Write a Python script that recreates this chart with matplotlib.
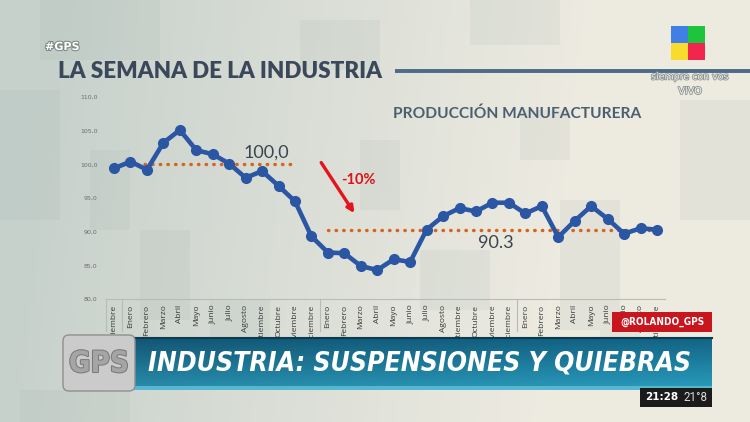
import os
import numpy as np
import matplotlib
matplotlib.use("Agg")
import matplotlib.pyplot as plt
from matplotlib import font_manager
from matplotlib.patches import Rectangle, FancyBboxPatch
import matplotlib.patheffects as pe

# datos: produccion manufacturera (indice), de diciembre a septiembre
meses = ["Diciembre",
         "Enero", "Febrero", "Marzo", "Abril", "Mayo", "Junio", "Julio",
         "Agosto", "Septiembre", "Octubre", "Noviembre", "Diciembre",
         "Enero", "Febrero", "Marzo", "Abril", "Mayo", "Junio", "Julio",
         "Agosto", "Septiembre", "Octubre", "Noviembre", "Diciembre",
         "Enero", "Febrero", "Marzo", "Abril", "Mayo", "Junio", "Julio",
         "Agosto", "Septiembre"]
produccion = [99.4,
              100.4, 99.2, 103.2, 105.1, 102.1, 101.5, 100.1,
              98.0, 99.0, 96.8, 94.5, 89.3,
              86.9, 86.8, 84.9, 84.3, 85.9, 85.5, 90.3,
              92.3, 93.5, 93.0, 94.3, 94.3,
              92.7, 93.8, 89.2, 91.6, 93.8, 91.9, 89.7,
              90.5, 90.3]
y_ticks = [80, 85, 90, 95, 100, 105, 110]
promedio_antes = 100.0
promedio_despues = 90.3
tramo_antes = (0, 10.8)
tramo_despues = (13, 33)
caida = "-10%"
cortes_anio = [-0.5, 0.5, 12.5, 24.5]


def buscar_fuente(archivos, **respaldo):
    for nombre in archivos:
        for f in font_manager.fontManager.ttflist:
            if os.path.basename(f.fname).lower() == nombre.lower():
                return font_manager.FontProperties(fname=f.fname)
    return font_manager.FontProperties(**respaldo)


f_banner = buscar_fuente(["LiberationSansNarrow-BoldItalic.ttf",
                          "DejaVuSansCondensed-BoldOblique.ttf"],
                         family="Roboto", weight="bold", style="italic")
f_cond = buscar_fuente(["LiberationSansNarrow-Bold.ttf",
                        "DejaVuSansCondensed-Bold.ttf"],
                       family="Roboto", weight="bold")

fig = plt.figure(figsize=(7.5, 4.22), dpi=100)

# fondo
bg = fig.add_axes([0, 0, 1, 1], zorder=0)
bg.set_xlim(0, 750)
bg.set_ylim(422, 0)
bg.axis("off")
gx = np.linspace(0, 1, 200)[None, :, None]
gy = np.linspace(0, 1, 100)[:, None, None]
izq = np.array([0.78, 0.82, 0.80])
der = np.array([0.93, 0.92, 0.88])
grad = izq + (der - izq) * np.clip(gx * 1.4 - 0.1 + gy * 0.1, 0, 1)
bg.imshow(grad, extent=[0, 750, 422, 0], aspect="auto", zorder=0)
bloques = [(0, 90, 60, 130), (40, 0, 120, 60), (140, 230, 50, 90), (300, 20, 80, 50),
           (420, 250, 70, 60), (560, 200, 60, 130), (680, 100, 70, 120), (20, 390, 110, 32),
           (210, 300, 60, 40), (470, 0, 90, 45), (600, 330, 40, 60), (90, 150, 40, 80),
           (360, 140, 40, 70), (520, 110, 50, 50)]
for bx, by, bw, bh in bloques:
    bg.add_patch(Rectangle((bx, by), bw, bh, color="#9fb0a8", alpha=0.13, lw=0, zorder=1))

# titulo y cabecera
bg.text(45, 47, "#GPS", color="white", fontsize=8, fontweight="bold", va="center",
        family="DejaVu Sans", path_effects=[pe.withStroke(linewidth=1.5, foreground="#7f8a86")])
titulo = bg.text(58, 72, "LA SEMANA DE LA INDUSTRIA", color="#3b4859", fontsize=15,
                 fontweight="heavy", family="Lato", va="center")
bg.plot([395, 750], [71, 71], color="#4d6a89", lw=2.8, solid_capstyle="butt")
sub = bg.text(393, 114, "PRODUCCIÓN MANUFACTURERA", color="#4b5f71", fontsize=10,
              fontweight="bold", family="Lato", va="center")

# logo del canal
for (lx, ly), c in zip([(671, 26), (688, 26), (671, 43), (688, 43)],
                       ["#3f7fe6", "#1fc43d", "#f7dc2c", "#f0264f"]):
    bg.add_patch(Rectangle((lx, ly), 17, 17, color=c, lw=0, zorder=3))
bg.text(690, 77, "siempre con vos", color="#eeeeee", fontsize=6.8, ha="center", va="center",
        family="DejaVu Sans", path_effects=[pe.withStroke(linewidth=1.2, foreground="#8c9490")])
bg.text(690, 91, "VIVO", color="#eeeeee", fontsize=7, ha="center", va="center",
        family="DejaVu Sans", path_effects=[pe.withStroke(linewidth=1.2, foreground="#8c9490")])

# grafico
ax = fig.add_axes([105.8 / 750, 1 - 299 / 422, 559.4 / 750, 202 / 422], zorder=1)
ax.patch.set_alpha(0)
x = np.arange(len(meses))
ax.plot(x, produccion, color="#2a56a4", lw=3.3, marker="o", ms=7, solid_joinstyle="round",
        zorder=4)
ax.plot(tramo_antes, [promedio_antes] * 2, color="#d8631e", lw=2.5, ls=(0, (0.1, 2.1)),
        dash_capstyle="round", zorder=3)
ax.plot(tramo_despues, [promedio_despues] * 2, color="#d8631e", lw=2.5, ls=(0, (0.1, 2.1)),
        dash_capstyle="round", zorder=3)
ax.text(9.25, 101.8, f"{promedio_antes:.1f}".replace(".", ","), color="#3a4450", fontsize=13,
        family="Lato", ha="center", va="center")
ax.text(23.2, 88.3, f"{promedio_despues:.1f}", color="#3a4450", fontsize=13,
        family="Lato", ha="center", va="center")
ax.annotate("", xy=(14.7, 92.4), xytext=(12.5, 100.6),
            arrowprops=dict(arrowstyle="-|>", color="#e5131b", lw=2.4, mutation_scale=10))
ax.text(13.8, 97.6, caida, color="#d9141c", fontsize=10.5, fontweight="bold", family="Lato",
        va="center")

ax.set_xlim(-0.5, 33.5)
ax.set_ylim(80, 110)
ax.set_yticks(y_ticks)
ax.set_yticklabels([f"{v:.1f}".replace(".", ",") for v in y_ticks], fontsize=4.5,
                   color="#6b706e")
ax.set_xticks(x)
ax.set_xticklabels(meses, rotation=90, fontsize=6, color="#333a3a", family="Open Sans")
ax.tick_params(axis="both", length=0)
ax.tick_params(axis="y", pad=6)
ax.tick_params(axis="x", pad=4)
for s in ["top", "right", "left"]:
    ax.spines[s].set_visible(False)
ax.spines["bottom"].set_color("#b9bcb6")
for corte in cortes_anio:
    ax.axvline(corte, ymin=-0.16, ymax=0, color="#b9bcb6", lw=0.8, clip_on=False)

# banner inferior
ov = fig.add_axes([0, 0, 1, 1], zorder=2)
ov.set_xlim(0, 750)
ov.set_ylim(422, 0)
ov.axis("off")
ov.patch.set_alpha(0)
bx = np.linspace(0, 1, 200)[None, :, None]
by = np.linspace(0, 1, 60)[:, None, None]
arriba = np.array([0.07, 0.33, 0.45])
abajo = np.array([0.16, 0.55, 0.67])
banda = arriba + (abajo - arriba) * by + np.array([0.0, 0.06, 0.07]) * bx
ov.imshow(banda, extent=[128, 712, 389, 337], aspect="auto", zorder=1)
ov.plot([128, 712], [337.5, 337.5], color="#0d3a4e", lw=1.5, zorder=2)
ov.add_patch(Rectangle((128, 386), 584, 4, color="#55b7d0", lw=0, zorder=2))
ov.add_patch(FancyBboxPatch((66, 338), 66, 50, boxstyle="round,pad=3,rounding_size=6",
                            facecolor="#cbcbcb", edgecolor="#8f8f8f", lw=1, zorder=3))
gps = ov.text(99, 364, "GPS", color="#a5a5a5", fontproperties=f_cond, fontsize=30,
              ha="center", va="center", zorder=4,
              path_effects=[pe.withStroke(linewidth=1.5, foreground="#7a7a7a")])
cintillo = ov.text(148, 364, "INDUSTRIA: SUSPENSIONES Y QUIEBRAS", color="white",
                   fontproperties=f_banner, fontsize=30, va="center", zorder=4)

ov.add_patch(Rectangle((612, 312), 100, 20, color="#c9161e", lw=0, zorder=3))
usuario = ov.text(662, 322, "@ROLANDO_GPS", color="white", fontproperties=f_cond, fontsize=8,
                  ha="center", va="center", zorder=4)
ov.add_patch(Rectangle((640, 388), 72, 19, color="#1b1b1b", lw=0, zorder=3))
hora = ov.text(645, 397.5, "21:28", color="white", fontproperties=f_cond, fontsize=9,
               va="center", zorder=4)
temp = ov.text(683, 397.5, "21°8", color="#dddddd", fontsize=8.5, family="Roboto",
               va="center", zorder=4)


def ajustar(t, ancho):
    r = fig.canvas.get_renderer()
    w = t.get_window_extent(r).width
    t.set_fontsize(t.get_fontsize() * ancho / w)


fig.canvas.draw()
ajustar(titulo, 325)
ajustar(sub, 247)
ajustar(cintillo, 542)
ajustar(gps, 60)
ajustar(usuario, 84)
ajustar(hora, 33)
ajustar(temp, 24)

fig.savefig("out.png", dpi=100)
